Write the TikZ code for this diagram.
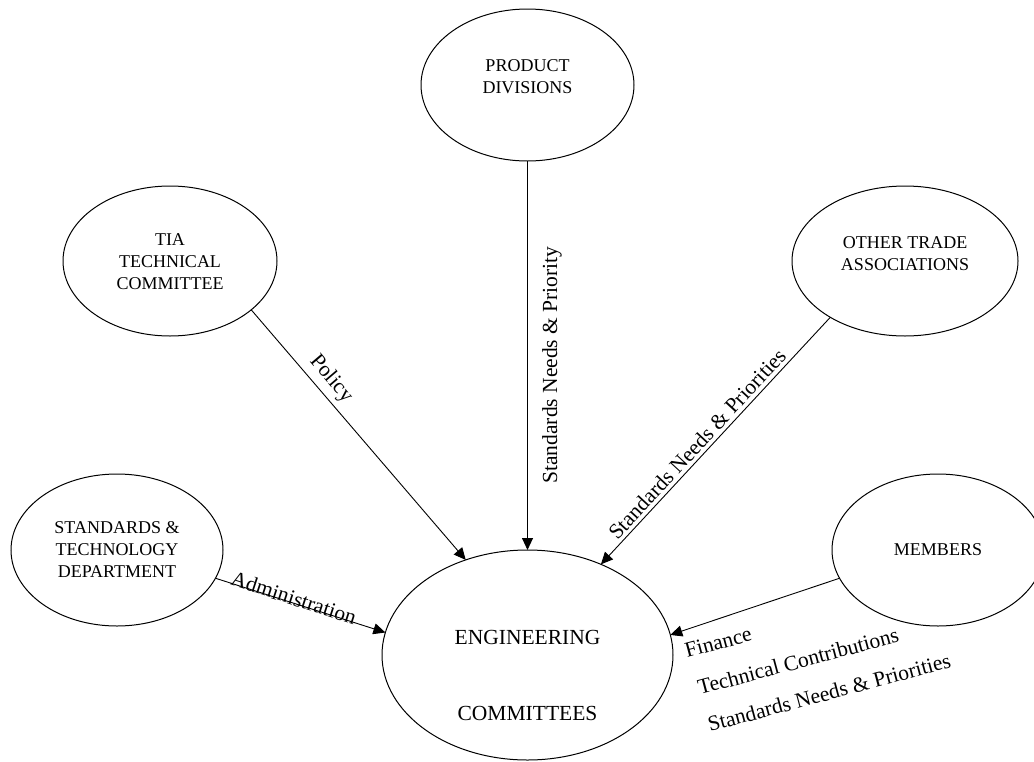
\documentclass[tikz,border=0pt]{standalone}
\usepackage{fontspec}
\setmainfont{Liberation Serif}
\usetikzlibrary{shapes.geometric,arrows.meta}
\newcommand{\elltext}[2]{\raisebox{#1}[\height][\depth]{\begin{tabular}{@{}c@{}}#2\end{tabular}}}
\begin{document}
\begin{tikzpicture}[x=1pt,y=-1pt,
  bubble/.style={draw, ellipse, line width=1pt, inner sep=0pt, outer sep=0pt,
                 font=\fontsize{18}{22}\selectfont},
  flow/.style={-{Triangle[length=12pt,width=11pt]}, line width=0.9pt},
  lbl/.style={font=\fontsize{21.5}{26}\selectfont, inner sep=0pt}]
\fill[white] (0,0) rectangle (1034,761);
\useasboundingbox (0,0) rectangle (1034,761);

% bubbles
\node[bubble, minimum width=213pt, minimum height=152pt] (prod) at (527.5,85)
  {\elltext{6.5pt}{PRODUCT\\DIVISIONS}};
\node[bubble, minimum width=214pt, minimum height=150pt] (tia) at (170,261)
  {\elltext{-2.5pt}{TIA\\TECHNICAL\\COMMITTEE}};
\node[bubble, minimum width=226pt, minimum height=150pt] (other) at (905,261)
  {\elltext{6pt}{OTHER TRADE\\ASSOCIATIONS}};
\node[bubble, minimum width=212pt, minimum height=152pt] (std) at (117,550)
  {\elltext{-1.5pt}{STANDARDS \&\\TECHNOLOGY\\DEPARTMENT}};
\node[bubble, minimum width=212pt, minimum height=152pt] (mem) at (938,550)
  {\elltext{-1.5pt}{MEMBERS}};
\node[bubble, minimum width=291pt, minimum height=210pt,
      font=\fontsize{21.5}{26}\selectfont] (eng) at (527.5,655)
  {\elltext{-22pt}{ENGINEERING\\[50pt]COMMITTEES}};

% connectors
\draw[flow] (tia.-31.1) -- (eng.123.5);
\draw[flow] (prod.south) -- (eng.north);
\draw[flow] (other.-143.8) -- (eng.51.8);
\draw[flow] (std.-16.3) -- (eng.171.5);
\draw[flow] (mem.196.5) -- (eng.8.4);

% labels
\node[lbl, rotate=-49.6] (lpol) at (331,379) {Policy};
\node[lbl, rotate=90] (lprod) at (552,365) {Standards Needs \& Priority};
\node[lbl, rotate=47.3] (loth) at (697,444) {Standards Needs \& Priorities};
\node[lbl, rotate=-18.1] (ladm) at (294,598) {Administration};
\node[lbl, rotate=15, anchor=base west] (lfin) at (687,658) {Finance};
\node[lbl, rotate=15, anchor=base west] (ltec) at (700,695) {Technical Contributions};
\node[lbl, rotate=15, anchor=base west] (lsnp) at (710,732) {Standards Needs \& Priorities};
\end{tikzpicture}
\end{document}
